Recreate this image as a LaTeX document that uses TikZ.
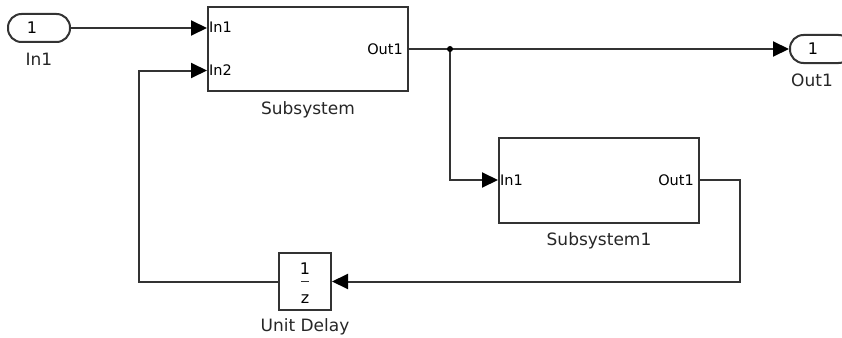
\documentclass[tikz,border=0pt]{standalone}
\usepackage{fontspec}
\setmainfont{DejaVu Sans}
\usetikzlibrary{arrows.meta,positioning,calc}

\begin{document}
\begin{tikzpicture}[x=1pt, y=-1pt, >={Triangle[length=16pt,width=15pt,color=black]},
    wire/.style={line width=2pt, draw=black!80},
    block/.style={draw=black!80, line width=2pt, inner sep=0pt},
    pill/.style={draw=black!80, line width=2pt, rounded corners=13.5pt,
        minimum width=62pt, minimum height=28pt, inner sep=0pt},
    caption/.style={font=\fontsize{17}{19}\selectfont, text=black!85, inner sep=0pt},
    portlbl/.style={font=\fontsize{14.5}{16}\selectfont, text=black, inner sep=0pt}]

\useasboundingbox (0,0) rectangle (842,337);

% Inport and outport
\node[pill] (in) at (39,28) {};
\node[portlbl, font=\fontsize{16}{18}\selectfont] at ($(in.west)+(25,0)$) {1};
\node[caption, below=10pt of in] {In1};

\node[pill] (out) at (821,49) {};
\node[portlbl, font=\fontsize{16}{18}\selectfont] at ($(out.west)+(24,0)$) {1};
\node[caption, below=10pt of out.south west, xshift=23pt, anchor=north] {Out1};

% Subsystem
\node[block, minimum width=200pt, minimum height=84pt] (sub) at (308,49) {};
\node[caption, below=9pt of sub] {Subsystem};
\coordinate (sub-in1) at ($(sub.north west)!0.25!(sub.south west)$);
\coordinate (sub-in2) at ($(sub.north west)!0.75!(sub.south west)$);
\node[portlbl, right=2pt of sub-in1] {In1};
\node[portlbl, right=2pt of sub-in2] {In2};
\node[portlbl, left=6pt of sub.east] {Out1};

% Subsystem1
\node[block, minimum width=200pt, minimum height=85pt] (sub1) at (599,180) {};
\node[caption, below=9pt of sub1] {Subsystem1};
\node[portlbl, right=2pt of sub1.west] {In1};
\node[portlbl, left=6pt of sub1.east] {Out1};

% Unit delay
\node[block, minimum width=52pt, minimum height=57pt] (delay) at (305,281.5) {};
\node[portlbl, font=\fontsize{16}{18}\selectfont] at ($(delay.center)+(0,-13)$) {1};
\draw[line width=1.5pt, black!80] ($(delay.center)+(-4,0)$) -- ($(delay.center)+(4,0)$);
\node[portlbl, font=\fontsize{16}{18}\selectfont] at ($(delay.center)+(0,18)$) {z};
\node[caption, below=7pt of delay] {Unit Delay};

% Signal lines
\coordinate (split) at ($(sub.east)+(41,0)$);
\coordinate (turn) at ($(sub1.east)+(40,0)$);
\coordinate (back) at ($(delay.west)+(-139,0)$);

\draw[wire,->] (in.east) -- (in.east -| sub.west);
\draw[wire,->] (sub.east) -- (out.west);
\draw[wire,->] (split) |- (sub1.west);
\fill[black] (split) circle (3pt);
\draw[wire,->] (sub1.east) -- (turn) |- (delay.east);
\draw[wire,->] (delay.west) -- (back) |- (sub-in2);

\end{tikzpicture}
\end{document}
